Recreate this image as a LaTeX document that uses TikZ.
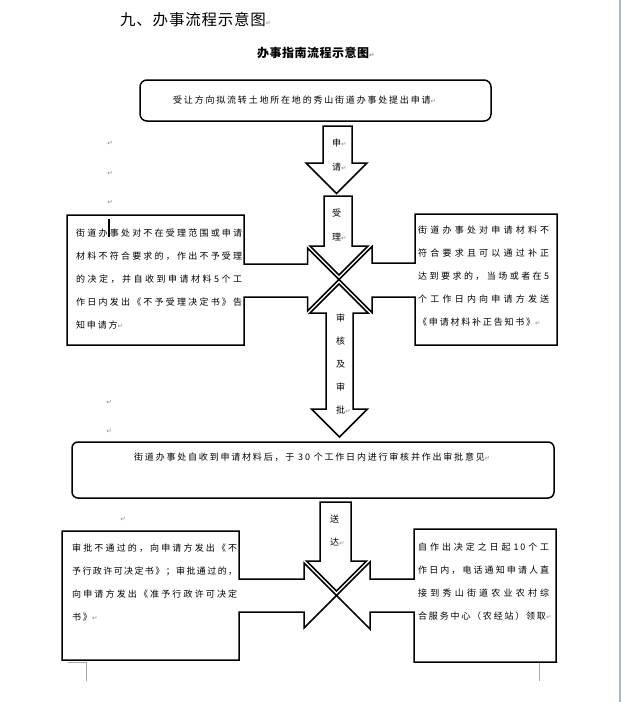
\documentclass[tikz,border=0pt]{standalone}
\usepackage{fontspec}
\newfontfamily\djv{DejaVu Sans}
\newfontfamily\cjkTitle[LetterSpace=5]{Noto Sans CJK SC}
\newfontfamily\cjkSub[LetterSpace=4]{Noto Sans CJK SC}
\newfontfamily\cjkA[LetterSpace=20]{Noto Sans CJK SC}
\newfontfamily\cjkL{Noto Sans CJK SC}
\definecolor{pmgray}{HTML}{8C8C8C}
\definecolor{edgegray}{HTML}{B0B5BD}
\definecolor{markgray}{HTML}{A8A8A8}
\newcommand\parmark{{\djv\fontsize{6.5}{7}\selectfont\textcolor{pmgray}{↵}}}
\newcommand\fTitle{\cjkTitle\fontsize{15.5}{18}\selectfont}
\newcommand\fSub{\cjkSub\bfseries\fontsize{12}{14}\selectfont}
\newcommand\fA{\cjkA\fontsize{9}{23}\selectfont}
\newcommand\fL{\cjkL\fontsize{9}{10}\selectfont}
\newcommand\nTen{10}
% justified line: glue between every character, box of a given width
\makeatletter
\def\jsp@end{\jsp@end}
\def\jsp@glue{\hskip 0pt plus 1fil minus 1pt\relax}
\def\jsp@a#1#2{#1\ifx\jsp@end#2\expandafter\@gobble\else\jsp@glue\expandafter\jsp@a\fi#2}
\newcommand\jline[2]{\makebox[#1][s]{\jsp@a#2\jsp@end}}
\makeatother
\begin{document}
\begin{tikzpicture}[x=1pt,y=-1pt,
  shp/.style={draw=black, line width=1.5pt, fill=white, line join=miter},
  rbox/.style={shp, rounded corners=7pt},
  boxtxt/.style={anchor=north west, inner sep=0pt, align=left},
  onetxt/.style={anchor=west, inner sep=0pt},
  lbl/.style={anchor=west, inner sep=0pt, font=\fL},
  pmnode/.style={inner sep=0pt},
  crop/.style={draw=markgray, line width=0.8pt}]
\useasboundingbox (0,0) rectangle (621,702);
\fill[white] (0,0) rectangle (621,702);
% page edge
\draw[draw=edgegray, line width=2pt] (620,0) -- (620,702);
% crop marks
\draw[crop] (68,662) -- (86,662) -- (86,681);
\draw[crop] (558,662) -- (539,662) -- (539,681);

% titles
\node[onetxt, font=\fTitle] (title) at (120,20) {九、办事流程示意图\parmark};
\node[onetxt, font=\fSub] (subtitle) at (257,53) {办事指南流程示意图\parmark};

% box 1
\draw[rbox] (140,80) rectangle (491,121);
\node[onetxt, font=\fA] (t1) at (173,100) {受让方向拟流转土地所在地的秀山街道办事处提出申请\parmark};

% arrow 申请
\draw[shp] (323,126) -- (352,126) -- (352,163) -- (367,163) -- (336.5,193.5) -- (306,163) -- (323,163) -- cycle;
\node[lbl] (a1) at (332,143) {申\parmark};
\node[lbl] (a2) at (332,167) {请\parmark};

% top left callout
\draw[shp] (67,215) -- (244,215) -- (244,264) -- (307.5,264) -- (307.5,248) -- (339,279.5)
  -- (307.5,311) -- (307.5,297) -- (244,297) -- (244,345) -- (67,345) -- cycle;
% top right callout
\draw[shp] (557,214) -- (415,214) -- (415,263) -- (372,263) -- (372,246.5) -- (339,279.5)
  -- (372,312.5) -- (372,297) -- (415,297) -- (415,345) -- (557,345) -- cycle;
% arrow 受理
\draw[shp] (324,196) -- (352,196) -- (352,246) -- (368,246) -- (339,275) -- (310,246) -- (324,246) -- cycle;
\node[lbl] (b1) at (332,213) {受};
\node[lbl] (b2) at (332,237) {理\parmark};
% double arrow 审核及审批
\draw[shp] (339,284) -- (368,313) -- (353,313) -- (353,409) -- (367.5,409) -- (339.5,437)
  -- (311.5,409) -- (326,409) -- (326,313) -- (310,313) -- cycle;
\node[lbl] (c1) at (336,318) {审};
\node[lbl] (c2) at (336,341) {核};
\node[lbl] (c3) at (336,364) {及};
\node[lbl] (c4) at (336,387) {审};
\node[lbl] (c5) at (336,410) {批\parmark};

\node[boxtxt, font=\fA] (tl) at (76,229) {\jline{166pt}{街道办事处对不在受理范围或申请}\\
\jline{166pt}{材料不符合要求的，作出不予受理}\\
\jline{166pt}{的决定，并自收到申请材料5个工}\\
\jline{166pt}{作日内发出《不予受理决定书》告}\\
知申请方\parmark};
\draw[line width=1.4pt] (109,219) -- (109,237);

\node[boxtxt, font=\fA] (tr) at (418,226) {\jline{131pt}{街道办事处对申请材料不}\\
\jline{131pt}{符合要求且可以通过补正}\\
\jline{131pt}{达到要求的，当场或者在5}\\
\jline{131pt}{个工作日内向申请方发送}\\
《申请材料补正告知书》\parmark};

% box 3
\draw[shp, rounded corners=6pt] (72,442) rectangle (554,498);
\node[onetxt, font=\fA] (t3) at (134,457) {街道办事处自收到申请材料后，于 30 个工作日内进行审核并作出审批意见\parmark};

% bottom left callout
\draw[shp] (62,531) -- (239,531) -- (239,579) -- (304,579) -- (304,563) -- (336.5,595.5)
  -- (304,628) -- (304,612) -- (239,612) -- (239,660) -- (62,660) -- cycle;
% bottom right callout
\draw[shp] (556,529) -- (414,529) -- (414,579) -- (370,579) -- (370,562) -- (336.5,595.5)
  -- (370,629) -- (370,612) -- (414,612) -- (414,662) -- (556,662) -- cycle;
% arrow 送达
\draw[shp] (320,502) -- (351,502) -- (351,561) -- (366.5,561) -- (336.5,591) -- (306.5,561) -- (320,561) -- cycle;
\node[lbl] (d1) at (330,519) {送};
\node[lbl] (d2) at (330,542) {达\parmark};

\node[boxtxt, font=\fA] (bl) at (72,544) {\jline{165pt}{审批不通过的，向申请方发出《不}\\
\jline{165pt}{予行政许可决定书》；审批通过的，}\\
\jline{165pt}{向申请方发出《准予行政许可决定}\\
书》\parmark};

\node[boxtxt, font=\fA] (br) at (418,543) {\jline{131pt}{自作出决定之日起\nTen 个工}\\
\jline{131pt}{作日内，电话通知申请人直}\\
\jline{131pt}{接到秀山街道农业农村综}\\
合服务中心（农经站）领取\parmark};

% paragraph marks in the margin
\node[pmnode] (p1) at (110,143) {\parmark};
\node[pmnode] (p2) at (110,173) {\parmark};
\node[pmnode] (p3) at (110,202) {\parmark};
\node[pmnode] (p4) at (109,402) {\parmark};
\node[pmnode] (p5) at (109,431) {\parmark};
\node[pmnode] (p6) at (123,519) {\parmark};
\end{tikzpicture}
\end{document}
